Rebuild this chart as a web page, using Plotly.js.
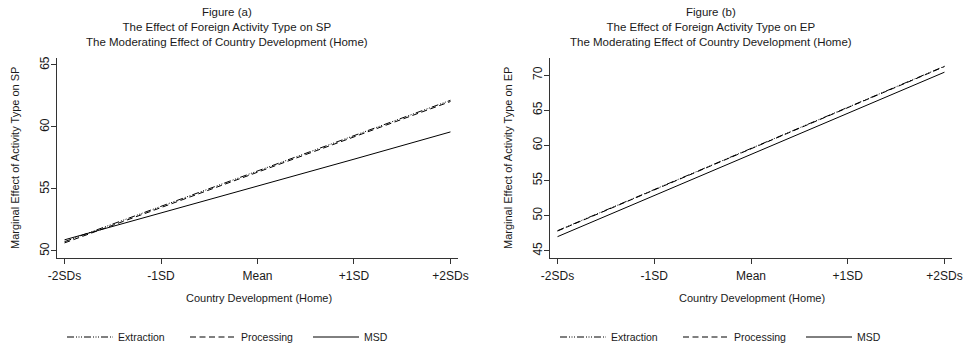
<!DOCTYPE html>
<html>
<head>
<meta charset="utf-8">
<script src="https://cdn.plot.ly/plotly-3.0.1.min.js"></script>
<style>html,body{margin:0;padding:0;background:#fff;}#chart{width:968px;height:347px;}</style>
</head>
<body>
<div id="chart"></div>
<script>
// Data
var xPositions = [-2, -1, 0, 1, 2];
var xTickLabels = ['-2SDs', '-1SD', 'Mean', '+1SD', '+2SDs'];

// Figure (a): effect on SP
var spExtraction = [50.75, 53.6, 56.45, 59.3, 62.15];
var spProcessing = [50.65, 53.5, 56.35, 59.2, 62.05];
var spMSD        = [50.9, 53.05, 55.25, 57.4, 59.6];
var spTicks = [50, 55, 60, 65];

// Figure (b): effect on EP
var epExtraction = [47.85, 53.7, 59.55, 65.4, 71.25];
var epProcessing = [47.8, 53.65, 59.5, 65.35, 71.2];
var epMSD        = [47.0, 52.85, 58.7, 64.55, 70.4];
var epTicks = [45, 50, 55, 60, 65, 70];

var seriesNames = ['Extraction', 'Processing', 'MSD'];

var W = 968, H = 347;
function px(x){ return x / W; }
function py(y){ return 1 - y / H; }

var FONT = 'Liberation Sans, Arial, sans-serif';
var TXT = '#1a1a1a';
var dashes = ['7px,2px,1px,1.5px,1px,1.5px,1px,2px', '6px,3.5px', 'solid'];

function trace(x, y, name, i, xa, ya, leg) {
  return {
    x: x, y: y, name: name, type: 'scatter', mode: 'lines',
    xaxis: xa, yaxis: ya, legend: leg,
    line: {color: '#000', width: 1, dash: dashes[i]},
    hoverinfo: 'skip'
  };
}

var data = [
  trace(xPositions, spExtraction, seriesNames[0], 0, 'x', 'y', 'legend'),
  trace(xPositions, spProcessing, seriesNames[1], 1, 'x', 'y', 'legend'),
  trace(xPositions, spMSD, seriesNames[2], 2, 'x', 'y', 'legend'),
  trace(xPositions, epExtraction, seriesNames[0], 0, 'x2', 'y2', 'legend2'),
  trace(xPositions, epProcessing, seriesNames[1], 1, 'x2', 'y2', 'legend2'),
  trace(xPositions, epMSD, seriesNames[2], 2, 'x2', 'y2', 'legend2')
];

var yDom = [py(258.3), py(58)];

function xaxis(dom, anchor) {
  return {
    domain: dom, range: [-2.078, 2.078], anchor: anchor,
    tickvals: xPositions, ticktext: xTickLabels,
    showline: true, linecolor: '#333', linewidth: 1,
    ticks: 'outside', ticklen: 5, tickcolor: '#333', tickwidth: 1,
    ticklabelstandoff: 1,
    showgrid: false, zeroline: false, fixedrange: true,
    tickfont: {family: FONT, size: 12, color: TXT}
  };
}
function yaxis(range, ticks, anchor) {
  return {
    domain: yDom, range: range, anchor: anchor,
    tickvals: ticks, tickangle: -90,
    showline: true, linecolor: '#333', linewidth: 1,
    ticks: 'outside', ticklen: 5, tickcolor: '#333', tickwidth: 1,
    ticklabelstandoff: -3,
    showgrid: false, zeroline: false, fixedrange: true,
    tickfont: {family: FONT, size: 12, color: TXT}
  };
}

function ann(text, x, y, size, angle) {
  return {
    text: text, xref: 'paper', yref: 'paper', x: px(x), y: py(y),
    xanchor: 'center', yanchor: 'middle', showarrow: false,
    textangle: angle || 0,
    font: {family: FONT, size: size, color: TXT}
  };
}

var off = 484;
var titleA = ['Figure (a)', 'The Effect of Foreign Activity Type on SP', 'The Moderating Effect of Country Development (Home)'];
var titleB = ['Figure (b)', 'The Effect of Foreign Activity Type on EP', 'The Moderating Effect of Country Development (Home)'];
var annotations = [
  ann(titleA.join('<br>'), 227, 27, 11.5),
  ann(titleB.join('<br>'), 227 + off, 27, 11.5),
  ann('Marginal Effect of Activity Type on SP', 15, 158, 11, -90),
  ann('Marginal Effect of Activity Type on EP', 15 + 493, 158, 11, -90),
  ann('Country Development (Home)', 259, 298, 11),
  ann('Country Development (Home)', 259 + 493, 298, 11)
];

function legend(x) {
  return {
    orientation: 'h', x: px(x), y: py(337), xanchor: 'left', yanchor: 'middle',
    font: {family: FONT, size: 10.5, color: TXT},
    bgcolor: 'rgba(0,0,0,0)', borderwidth: 0,
    itemwidth: 46, entrywidth: 62, entrywidthmode: 'pixels',
    itemclick: false, itemdoubleclick: false
  };
}

var layout = {
  width: W, height: H,
  margin: {l: 0, r: 0, t: 0, b: 0, autoexpand: false},
  paper_bgcolor: '#fff', plot_bgcolor: '#fff',
  showlegend: true,
  xaxis: xaxis([px(57), px(458)], 'y'),
  yaxis: yaxis([49.41, 65.56], spTicks, 'x'),
  xaxis2: xaxis([px(550), px(952)], 'y2'),
  yaxis2: yaxis([43.92, 72.42], epTicks, 'x2'),
  legend: legend(62),
  legend2: legend(555),
  annotations: annotations
};

Plotly.newPlot('chart', data, layout, {staticPlot: true, displayModeBar: false});
</script>
</body>
</html>
